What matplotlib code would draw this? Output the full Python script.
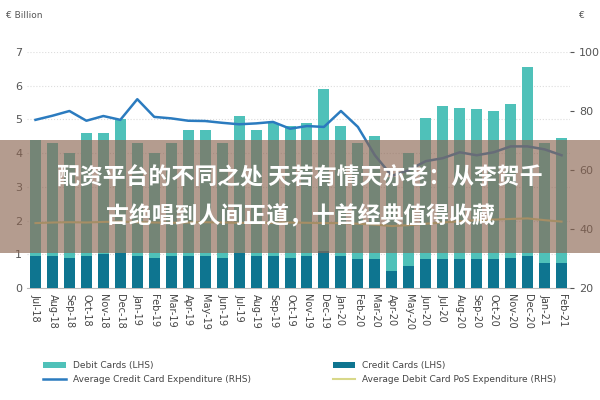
import matplotlib
matplotlib.use("Agg")
import matplotlib.pyplot as plt
from matplotlib.patches import Rectangle

months = ["Jul-18","Aug-18","Sep-18","Oct-18","Nov-18","Dec-18","Jan-19","Feb-19","Mar-19","Apr-19",
          "May-19","Jun-19","Jul-19","Aug-19","Sep-19","Oct-19","Nov-19","Dec-19","Jan-20","Feb-20",
          "Mar-20","Apr-20","May-20","Jun-20","Jul-20","Aug-20","Sep-20","Oct-20","Nov-20","Dec-20",
          "Jan-21","Feb-21"]
debit = [4.4,4.3,4.0,4.6,4.6,5.0,4.3,4.0,4.3,4.7,4.7,4.3,5.1,4.7,4.9,4.8,4.9,5.9,4.8,4.3,
         4.5,3.3,4.0,5.05,5.4,5.35,5.3,5.25,5.45,6.55,4.3,4.45]
credit = [0.95,0.95,0.9,0.95,1.0,1.05,0.95,0.9,0.95,0.95,0.95,0.9,1.05,0.95,0.95,0.9,0.95,1.1,0.95,0.85,
          0.85,0.5,0.65,0.85,0.85,0.85,0.85,0.85,0.9,0.95,0.75,0.75]
avg_credit = [77,78.4,80,76.7,78.3,77,84,78,77.5,76.7,76.6,76,75.5,75.8,76.3,74,74.9,74.6,80,74.6,
              65,58,60,63,64,66,65,66,68,68,67,65]
avg_debit = [42,42.2,42.3,42.2,42.4,42.5,42.3,42.2,42.1,42.2,42.3,42.2,42.1,42,42.1,42.2,42.1,42,42,41.8,
             41.5,41,41.3,41.8,42.2,42.6,43,43.2,43.4,43.6,43,42.5]

fig = plt.figure(figsize=(6, 4), dpi=100)
ax = fig.add_axes([0.045, 0.28, 0.905, 0.59])
x = list(range(len(months)))
ax.bar(x, debit, width=0.65, color="#4fc1b9", label="Debit Cards (LHS)", zorder=2)
ax.bar(x, credit, width=0.65, color="#0e7590", label="Credit Cards (LHS)", zorder=3)
ax.set_ylim(0, 7)
ax.set_xlim(-0.5, len(months) - 0.5)
ax.set_yticks(range(0, 8))
ax.grid(axis="y", color="#dddddd", linestyle=":", linewidth=0.8, zorder=0)
ax.set_xticks(x)
ax.set_xticklabels(months, rotation=270, fontsize=7, color="#444444")
ax.tick_params(axis="y", labelsize=8, colors="#555555", length=0)
ax.tick_params(axis="x", length=0, pad=4)
for s in ax.spines.values():
    s.set_visible(False)
ax.spines["bottom"].set_visible(True)
ax.spines["bottom"].set_color("#bbbbbb")

ax2 = ax.twinx()
ax2.plot(x, avg_credit, color="#2b7bbf", linewidth=1.8, label="Average Credit Card Expenditure (RHS)", zorder=4)
ax2.plot(x, avg_debit, color="#d8d88a", linewidth=1.5, label="Average Debit Card PoS Expenditure (RHS)", zorder=4)
ax2.set_ylim(20, 100)
ax2.set_yticks([20, 40, 60, 80, 100])
ax2.tick_params(axis="y", labelsize=8, colors="#555555", length=3)
for s in ax2.spines.values():
    s.set_visible(False)

fig.text(0.01, 0.955, "€ Billion", fontsize=6.5, color="#555555")
fig.text(0.965, 0.955, "€", fontsize=6.5, color="#555555")

h1, l1 = ax.get_legend_handles_labels()
h2, l2 = ax2.get_legend_handles_labels()
handles = [h1[0], h1[1], h2[0], h2[1]]
labels = [l1[0], l1[1], l2[0], l2[1]]
order = [0, 2, 1, 3]
fig.legend([handles[i] for i in order], [labels[i] for i in order], ncol=2, loc="lower center",
           bbox_to_anchor=(0.5, 0.02), frameon=False, fontsize=6.5, handlelength=2.5,
           columnspacing=9, labelcolor="#444444")

fig.patches.append(Rectangle((0, 0.368), 1, 0.282, transform=fig.transFigure,
                             facecolor="#8a6450", alpha=0.64, zorder=10))
fig.text(0.5, 0.555, "配资平台的不同之处 天若有情天亦老：从李贺千", ha="center", va="center",
         fontsize=16.5, fontweight="bold", color="white", family=["Noto Sans CJK SC", "DejaVu Sans"], zorder=11)
fig.text(0.5, 0.458, "古绝唱到人间正道，十首经典值得收藏", ha="center", va="center",
         fontsize=16.5, fontweight="bold", color="white", family=["Noto Sans CJK SC", "DejaVu Sans"], zorder=11)

fig.savefig("out.png", dpi=100)
